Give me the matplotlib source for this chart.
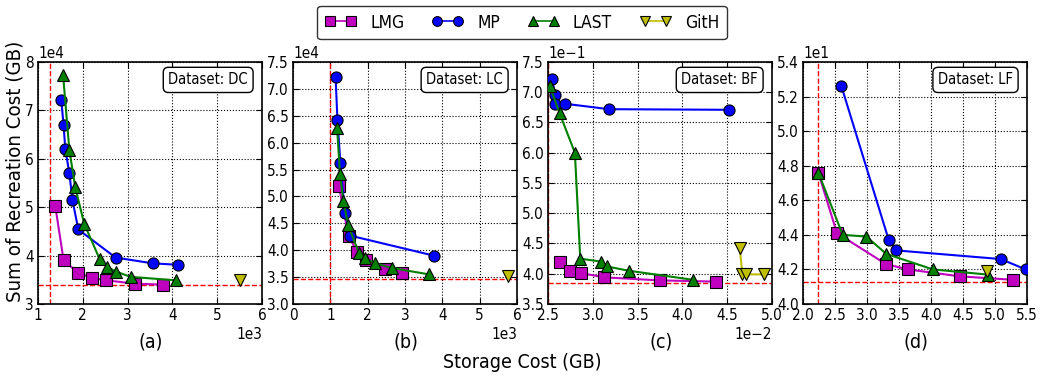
import matplotlib
matplotlib.use("Agg")
import matplotlib.pyplot as plt
from matplotlib.ticker import ScalarFormatter, MultipleLocator
from matplotlib.lines import Line2D

plt.rcParams['font.family'] = ['DejaVu Sans']
plt.rcParams['font.stretch'] = 'condensed'
plt.rcParams['axes.unicode_minus'] = True

# ---------------- data ----------------
datasets = ["DC", "LC", "BF", "LF"]
panel_labels = ["(a)", "(b)", "(c)", "(d)"]

# (a) DC
a_lmg_x = [1385, 1570, 1890, 2210, 2520, 3160, 3780]
a_lmg_y = [50300, 39100, 36400, 35400, 34900, 34200, 34000]
a_mp_x = [1520, 1570, 1610, 1700, 1770, 1900, 2730, 3560, 4130]
a_mp_y = [72100, 67000, 62000, 57000, 51400, 45400, 39600, 38400, 38100]
a_last_x = [1560, 1700, 1830, 2030, 2380, 2540, 2740, 3070, 4070]
a_last_y = [77300, 61800, 54200, 46600, 39200, 37700, 36700, 35600, 34900]
a_gith_x = [5500]
a_gith_y = [35000]
a_vline, a_hline = 1260, 33900

# (b) LC
b_lmg_x = [1230, 1490, 1720, 1960, 2460, 2930]
b_lmg_y = [51900, 42600, 39700, 38100, 36600, 35800]
b_mp_x = [1140, 1190, 1270, 1390, 1540, 3770]
b_mp_y = [72300, 64300, 56200, 46900, 42700, 39000]
b_last_x = [1180, 1260, 1350, 1480, 1770, 1930, 2190, 2640, 3650]
b_last_y = [62800, 54100, 49100, 44600, 39400, 38500, 37600, 36700, 35500]
b_gith_x = [5760]
b_gith_y = [35200]
b_vline, b_hline = 1000, 34700

# (c) BF
c_lmg_x = [0.0263, 0.0275, 0.0287, 0.0313, 0.0375, 0.0437]
c_lmg_y = [0.420, 0.404, 0.401, 0.394, 0.389, 0.387]
c_mp_x = [0.02544, 0.0258, 0.0258, 0.0269, 0.0318, 0.0452]
c_mp_y = [0.722, 0.696, 0.681, 0.681, 0.672, 0.671]
c_last_x = [0.0252, 0.0263, 0.0280, 0.0286, 0.0309, 0.0316, 0.0340, 0.0412]
c_last_y = [0.710, 0.665, 0.600, 0.425, 0.420, 0.412, 0.405, 0.390]
c_gith_x = [0.0464, 0.0467, 0.0471, 0.0491]
c_gith_y = [0.442, 0.399, 0.399, 0.399]
c_vline, c_hline = 0.0250, 0.384

# (d) LF
d_lmg_x = [2.24, 2.53, 3.30, 3.64, 4.45, 5.28]
d_lmg_y = [47.6, 44.1, 42.3, 42.0, 41.6, 41.4]
d_mp_x = [2.60, 3.34, 3.46, 5.09, 5.48]
d_mp_y = [52.6, 43.7, 43.1, 42.6, 42.0]
d_last_x = [2.24, 2.62, 2.99, 3.30, 4.03, 4.89]
d_last_y = [47.6, 44.0, 43.9, 42.9, 42.0, 41.7]
d_gith_x = [4.88]
d_gith_y = [41.9]
d_vline, d_hline = 2.24, 41.3

panels = [
    dict(lmg=(a_lmg_x, a_lmg_y), mp=(a_mp_x, a_mp_y), last=(a_last_x, a_last_y),
         gith=(a_gith_x, a_gith_y), v=a_vline, h=a_hline,
         xlim=(1000, 6000), ylim=(30000, 80000), xstep=1000, ystep=10000, xsci=True),
    dict(lmg=(b_lmg_x, b_lmg_y), mp=(b_mp_x, b_mp_y), last=(b_last_x, b_last_y),
         gith=(b_gith_x, b_gith_y), v=b_vline, h=b_hline,
         xlim=(0, 6000), ylim=(30000, 75000), xstep=1000, ystep=5000, xsci=True),
    dict(lmg=(c_lmg_x, c_lmg_y), mp=(c_mp_x, c_mp_y), last=(c_last_x, c_last_y),
         gith=(c_gith_x, c_gith_y), v=c_vline, h=c_hline,
         xlim=(0.025, 0.050), ylim=(0.35, 0.75), xstep=0.005, ystep=0.05, xsci=True),
    dict(lmg=(d_lmg_x, d_lmg_y), mp=(d_mp_x, d_mp_y), last=(d_last_x, d_last_y),
         gith=(d_gith_x, d_gith_y), v=d_vline, h=d_hline,
         xlim=(2.0, 5.5), ylim=(40, 54), xstep=0.5, ystep=2, xsci=False),
]

styles = {
    "lmg": dict(color=(0.75, 0, 0.75), marker="s", label="LMG"),
    "mp": dict(color=(0, 0, 1), marker="o", label="MP"),
    "last": dict(color=(0, 0.5, 0), marker="^", label="LAST"),
    "gith": dict(color=(0.75, 0.75, 0), marker="v", label="GitH"),
}

W, H = 1043, 378
fig = plt.figure(figsize=(W / 100, H / 100), dpi=100)

lefts = [38, 293, 548, 803]
ax_w = 224
top_px, bot_px = 62, 304
TICK_FS = 11

for i, p in enumerate(panels):
    ax = fig.add_axes([lefts[i] / W, 1 - bot_px / H, ax_w / W, (bot_px - top_px) / H])
    for key in ["lmg", "mp", "last", "gith"]:
        xs, ys = p[key]
        st = styles[key]
        ax.plot(xs, ys, color=st["color"], marker=st["marker"], markersize=8,
                markerfacecolor=st["color"], markeredgecolor="black",
                markeredgewidth=0.8, linewidth=1.5, zorder=3)
    ax.axvline(p["v"], color="red", linestyle="--", linewidth=1, zorder=2)
    ax.axhline(p["h"], color="red", linestyle="--", linewidth=1, zorder=2)
    ax.set_xlim(*p["xlim"])
    ax.set_ylim(*p["ylim"])
    ax.xaxis.set_major_locator(MultipleLocator(p["xstep"]))
    ax.yaxis.set_major_locator(MultipleLocator(p["ystep"]))
    yf = ScalarFormatter()
    yf.set_powerlimits((0, 0))
    ax.yaxis.set_major_formatter(yf)
    if p["xsci"]:
        xf = ScalarFormatter()
        xf.set_powerlimits((0, 0))
        ax.xaxis.set_major_formatter(xf)
    ax.grid(True, color="black", linestyle=":", linewidth=0.8)
    ax.tick_params(direction="in", top=True, right=True, labelsize=TICK_FS, length=4, pad=3)
    ax.yaxis.get_offset_text().set_fontsize(TICK_FS)
    ax.xaxis.get_offset_text().set_fontsize(TICK_FS)
    for s in ax.spines.values():
        s.set_linewidth(1.2)
    ax.text(0.9375, 0.926, "Dataset: " + datasets[i], transform=ax.transAxes,
            ha="right", va="center", fontsize=10.5,
            bbox=dict(boxstyle="round,pad=0.35", facecolor="white", edgecolor="black"))
    fig.text((lefts[i] + 113) / W, 1 - 342 / H, panel_labels[i],
             ha="center", va="center", fontsize=14)

fig.text(522 / W, 1 - 362 / H, "Storage Cost (GB)", ha="center", va="center", fontsize=14)
fig.text(15 / W, 1 - 171 / H, "Sum of Recreation Cost (GB)", ha="center", va="center",
         rotation=90, fontsize=14.7)

handles = []
for key in ["lmg", "mp", "last", "gith"]:
    st = styles[key]
    handles.append(Line2D([], [], color=st["color"], marker=st["marker"], markersize=7,
                          markerfacecolor=st["color"], markeredgecolor="black",
                          markeredgewidth=0.8, linewidth=1.2, label=st["label"]))
fig.legend(handles=handles, loc="center", bbox_to_anchor=(522 / W, 1 - 22.5 / H),
           ncol=4, fontsize=12.5, numpoints=2, frameon=True, fancybox=True,
           edgecolor="black", handlelength=1.8, columnspacing=1.6,
           borderpad=0.45, handletextpad=0.8)

fig.savefig("out.png", dpi=100)
